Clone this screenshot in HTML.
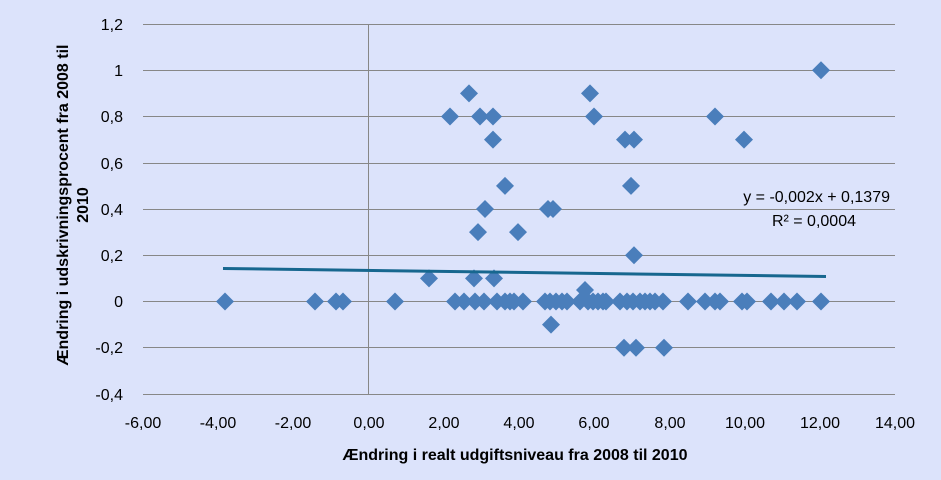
<!DOCTYPE html><html><head><meta charset="utf-8"><style>html,body{margin:0;padding:0;background:#dce3fb}svg{display:block}text{font-family:"Liberation Sans",sans-serif}</style></head><body>
<svg width="941" height="480" viewBox="0 0 941 480" xmlns="http://www.w3.org/2000/svg">
<defs><path id="d" d="M0,-9L9,0L0,9L-9,0Z" fill="#4a7ebb"/></defs>
<rect width="941" height="480" fill="#dce3fb"/>
<g stroke="#878787" stroke-width="1">
<line x1="143" x2="895" y1="24.5" y2="24.5"/><line x1="143" x2="895" y1="70.5" y2="70.5"/><line x1="143" x2="895" y1="116.5" y2="116.5"/><line x1="143" x2="895" y1="163.5" y2="163.5"/><line x1="143" x2="895" y1="209.5" y2="209.5"/><line x1="143" x2="895" y1="255.5" y2="255.5"/><line x1="143" x2="895" y1="301.5" y2="301.5"/><line x1="143" x2="895" y1="347.5" y2="347.5"/><line x1="143" x2="895" y1="394.5" y2="394.5"/>
<line x1="368.5" x2="368.5" y1="24" y2="394"/>
</g>
<g font-size="16" fill="#000" text-anchor="end">
<text x="123" y="30">1,2</text><text x="123" y="76">1</text><text x="123" y="122">0,8</text><text x="123" y="169">0,6</text><text x="123" y="215">0,4</text><text x="123" y="261">0,2</text><text x="123" y="307">0</text><text x="123" y="353">-0,2</text><text x="123" y="400">-0,4</text>
</g>
<g font-size="16" fill="#000" text-anchor="middle">
<text x="143" y="428">-6,00</text><text x="218" y="428">-4,00</text><text x="293" y="428">-2,00</text><text x="369" y="428">0,00</text><text x="444" y="428">2,00</text><text x="519" y="428">4,00</text><text x="594" y="428">6,00</text><text x="670" y="428">8,00</text><text x="745" y="428">10,00</text><text x="820" y="428">12,00</text><text x="895" y="428">14,00</text>
</g>
<text x="515" y="460" font-size="16" font-weight="bold" text-anchor="middle">Ændring i realt udgiftsniveau fra 2008 til 2010</text>
<g font-size="16" font-weight="bold" text-anchor="middle">
<text transform="translate(68,205) rotate(-90)">Ændring i udskrivningsprocent fra 2008 til</text>
<text transform="translate(88,205) rotate(-90)">2010</text>
</g>
<g>
<use href="#d" x="225" y="301.5"/><use href="#d" x="315" y="301.5"/><use href="#d" x="336" y="301.5"/><use href="#d" x="343" y="301.5"/><use href="#d" x="395" y="301.5"/>
<use href="#d" x="429" y="278.4"/><use href="#d" x="450" y="116.5"/><use href="#d" x="469" y="93.4"/><use href="#d" x="455" y="301.5"/><use href="#d" x="464" y="301.5"/><use href="#d" x="474" y="278.4"/><use href="#d" x="478" y="232.1"/><use href="#d" x="480" y="116.5"/><use href="#d" x="485" y="209"/><use href="#d" x="493" y="116.5"/><use href="#d" x="493" y="139.6"/><use href="#d" x="494" y="278.4"/><use href="#d" x="475" y="301.5"/><use href="#d" x="484" y="301.5"/><use href="#d" x="497" y="301.5"/><use href="#d" x="505" y="185.9"/><use href="#d" x="505" y="301.5"/><use href="#d" x="510" y="301.5"/><use href="#d" x="514" y="301.5"/><use href="#d" x="518" y="232.1"/><use href="#d" x="523" y="301.5"/>
<use href="#d" x="545" y="301.5"/><use href="#d" x="548" y="209"/><use href="#d" x="553" y="209"/><use href="#d" x="551" y="324.6"/><use href="#d" x="550" y="301.5"/><use href="#d" x="556" y="301.5"/><use href="#d" x="562" y="301.5"/><use href="#d" x="567" y="301.5"/><use href="#d" x="580" y="301.5"/><use href="#d" x="585" y="290"/><use href="#d" x="590" y="93.4"/><use href="#d" x="594" y="116.5"/><use href="#d" x="588" y="301.5"/><use href="#d" x="593" y="301.5"/><use href="#d" x="598" y="301.5"/><use href="#d" x="603" y="301.5"/><use href="#d" x="606" y="301.5"/>
<use href="#d" x="624" y="347.8"/><use href="#d" x="625" y="139.6"/><use href="#d" x="634" y="139.6"/><use href="#d" x="631" y="185.9"/><use href="#d" x="634" y="255.3"/><use href="#d" x="636" y="347.8"/><use href="#d" x="620" y="301.5"/><use href="#d" x="627" y="301.5"/><use href="#d" x="633" y="301.5"/><use href="#d" x="640" y="301.5"/><use href="#d" x="645" y="301.5"/><use href="#d" x="650" y="301.5"/><use href="#d" x="655" y="301.5"/><use href="#d" x="664" y="347.8"/><use href="#d" x="663" y="301.5"/>
<use href="#d" x="688" y="301.5"/><use href="#d" x="705" y="301.5"/><use href="#d" x="715" y="116.5"/><use href="#d" x="715" y="301.5"/><use href="#d" x="720" y="301.5"/><use href="#d" x="744" y="139.6"/><use href="#d" x="742" y="301.5"/><use href="#d" x="747" y="301.5"/><use href="#d" x="771" y="301.5"/><use href="#d" x="784" y="301.5"/><use href="#d" x="797" y="301.5"/><use href="#d" x="821" y="70.25"/><use href="#d" x="821" y="301.5"/>
</g>
<line x1="223" y1="268.5" x2="826" y2="276.5" stroke="#17678f" stroke-width="3"/>
<g font-size="16" text-anchor="end">
<text x="890" y="202">y = -0,002x + 0,1379</text>
<text x="856" y="226">R² = 0,0004</text>
</g>
</svg>
</body></html>
